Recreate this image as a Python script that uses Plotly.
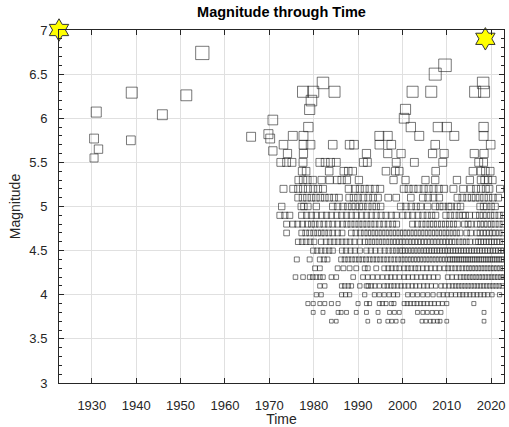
import numpy as np
import plotly.graph_objects as go

# ---- larger / older events (year, magnitude) ----
big_years = [1930.5, 1931.0, 1931.5, 1930.5, 1939.0, 1938.8, 1945.9, 1951.3, 1954.9, 1965.9,
             1969.8, 1970.2, 1970.8, 1970.8, 1973.2, 1974.1, 1975.3, 1977.7, 1977.7, 1977.7,
             1978.8, 1977.6, 1979.9, 1979.5, 1979.1, 1982.1, 1984.7, 1979.3, 1984.3, 1988.1,
             1989.1, 1991.9, 1994.8, 1996.7, 1994.8, 1997.5, 1996.7, 1999.7, 2000.7, 2000.4,
             2001.9, 2002.3, 2003.8, 2006.5, 2007.4, 2009.6, 2008.0, 2010.0, 2011.7, 2007.4,
             2006.8, 2009.4, 2016.4, 2018.4, 2018.2, 2018.3, 2018.3, 2019.9, 2016.2, 2018.4]
big_mags = [5.77, 6.07, 5.65, 5.55, 6.29, 5.75, 6.04, 6.26, 6.74, 5.79,
            5.82, 5.77, 5.98, 5.63, 5.7, 5.6, 5.8, 5.8, 5.7, 5.6,
            5.9, 6.3, 6.3, 6.2, 6.1, 6.4, 6.3, 5.7, 5.7, 5.7,
            5.7, 5.6, 5.8, 5.8, 5.7, 5.7, 5.6, 5.6, 6.1, 6.0,
            5.9, 6.3, 5.8, 6.3, 6.5, 6.6, 5.9, 5.9, 5.8, 5.7,
            5.6, 5.6, 6.3, 6.3, 6.4, 5.9, 5.8, 5.7, 5.6, 5.6]

# ---- events per magnitude row (years) ----
yrs_55 = [1972.6, 1973.9, 1975.1, 1977.6, 1981.4, 1982.6, 1983.8, 1985.1, 1991.2, 1992.1,
          1998.6, 2002.7, 2009.1, 2017.2, 2018.3]
yrs_54 = [1977.4, 1978.3, 1983.5, 1986.8, 1987.8, 1988.8, 1996.3, 1998.4, 1999.3, 2007.5,
          2015.9, 2017.7, 2018.7, 2019.8]
yrs_53 = [1976.6, 1977.6, 1978.6, 1979.8, 1981.8, 1983.6, 1985.3, 1986.3, 1987.5, 1990.2,
          1998.0, 2000.7, 2005.2, 2007.4, 2012.3, 2015.2, 2017.7, 2018.5, 2019.3, 2020.3]
yrs_52 = [1973.2, 1975.4, 1976.5, 1977.6, 1978.7, 1979.9, 1981.0, 1982.1, 1987.9, 1989.3,
          1990.4, 1991.5, 1992.6, 1993.8, 1995.0, 2000.3, 2001.4, 2002.5, 2003.6, 2004.8,
          2005.9, 2007.0, 2008.2, 2009.4, 2011.5, 2013.7, 2015.4, 2016.6, 2017.7, 2018.8,
          2019.6, 2022.0]
yrs_51 = [1976.5, 1977.5, 1978.5, 1979.5, 1980.5, 1981.5, 1982.5, 1983.5, 1984.6, 1985.7,
          1988.0, 1989.0, 1990.0, 1991.2, 1992.3, 1993.4, 1994.5, 1996.8, 1998.6, 2001.9,
          2004.6, 2005.8, 2007.0, 2008.3, 2012.4, 2013.5, 2014.6, 2015.6, 2016.5, 2017.4,
          2018.4, 2019.4, 2020.4, 2021.6]
yrs_50 = [1972.8, 1977.2, 1977.8, 1978.7, 1980.6, 1984.3, 1985.4, 1986.6, 1987.7, 1988.6,
          1989.4, 1990.3, 1991.1, 1992.2, 1993.2, 1994.1, 1995.1, 1999.6, 2000.8, 2002.0,
          2003.1, 2004.1, 2005.7, 2007.4, 2008.4, 2009.2, 2010.4, 2011.0, 2012.3, 2013.1,
          2017.5, 2018.3, 2019.0, 2020.0, 2020.9]
yrs_49 = [1972.4, 1973.5, 1974.6, 1977.3, 1978.4, 1979.5, 1980.6, 1981.8, 1982.9, 1984.0,
          1985.2, 1986.3, 1987.4, 1988.5, 1989.6, 1990.8, 1991.9, 1993.0, 1994.1, 1995.2,
          1996.3, 1997.5, 1998.6, 2000.1, 2001.2, 2002.3, 2003.5, 2004.6, 2005.6, 2006.6,
          2007.5, 2009.8, 2010.8, 2011.8, 2012.8, 2013.6, 2014.2, 2015.1, 2016.5, 2017.4,
          2018.2, 2019.0, 2019.9, 2020.8, 2021.8, 2022.8]
yrs_48 = [1973.9, 1975.3, 1976.4, 1977.5, 1978.6, 1979.5, 1980.3, 1981.3, 1982.3, 1983.3,
          1984.3, 1985.4, 1986.5, 1987.5, 1988.4, 1989.3, 1990.2, 1991.1, 1992.0, 1992.9,
          1993.8, 1994.8, 1995.8, 1996.8, 1997.8, 1998.7, 2002.3, 2003.4, 2004.4, 2005.3,
          2006.2, 2007.0, 2007.9, 2008.8, 2009.7, 2010.6, 2011.5, 2012.4, 2014.0, 2014.8,
          2015.5, 2016.8, 2017.6, 2018.4, 2019.2, 2020.0, 2020.9, 2021.8, 2022.7]
yrs_47 = [1973.9, 1977.3, 1978.2, 1979.1, 1980.0, 1980.9, 1981.7, 1982.5, 1983.4, 1984.3,
          1985.4, 1986.4, 1988.5, 1989.5, 1990.5, 1991.4, 1992.2, 1993.0, 1993.8, 1994.6,
          1995.4, 1996.2, 1997.0, 1997.8, 1998.6, 1999.4, 2000.2, 2001.0, 2001.8, 2002.6,
          2003.4, 2004.2, 2005.0, 2005.8, 2006.6, 2007.4, 2008.2, 2009.0, 2009.8, 2010.6,
          2011.4, 2012.2, 2013.0, 2014.5, 2015.4, 2016.8, 2017.5, 2018.2, 2018.9, 2019.6,
          2020.3, 2021.0, 2021.8, 2022.6]
yrs_46 = [1976.5, 1977.4, 1978.3, 1979.2, 1980.1, 1981.7, 1982.8, 1983.7, 1984.6, 1985.5,
          1986.4, 1987.3, 1988.2, 1989.2, 1990.4, 1991.5, 1992.3, 1993.1, 1993.9, 1994.7,
          1995.5, 1996.3, 1997.1, 1997.9, 1998.6, 1999.3, 2000.0, 2000.7, 2001.4, 2002.1,
          2002.8, 2003.5, 2004.2, 2004.9, 2005.6, 2006.3, 2007.0, 2007.7, 2008.4, 2009.1,
          2009.8, 2010.5, 2011.2, 2011.9, 2012.8, 2013.6, 2014.4, 2015.2, 2016.5, 2017.1,
          2017.7, 2018.3, 2018.9, 2019.5, 2020.1, 2020.7, 2021.3, 2021.9, 2022.6]
yrs_45 = [1979.9, 1980.8, 1981.7, 1982.6, 1983.5, 1984.3, 1986.4, 1987.3, 1988.3, 1989.3,
          1990.4, 1991.9, 1992.9, 1993.9, 1995.0, 1996.0, 1996.9, 1997.8, 1998.6, 1999.4,
          2000.0, 2000.6, 2001.3, 2002.0, 2002.7, 2003.4, 2004.1, 2004.8, 2005.4, 2006.0,
          2006.6, 2007.2, 2007.8, 2008.4, 2009.0, 2009.6, 2010.2, 2010.8, 2011.4, 2012.0,
          2012.6, 2013.2, 2013.8, 2014.4, 2015.0, 2015.6, 2016.2, 2016.8, 2017.4, 2018.0,
          2018.6, 2019.2, 2019.8, 2020.4, 2021.0, 2021.6, 2022.2, 2022.8]
yrs_44 = [1976.2, 1979.1, 1981.4, 1982.3, 1983.1, 1986.2, 1987.0, 1987.8, 1988.6, 1989.4,
          1990.2, 1991.0, 1991.8, 1992.6, 1993.4, 1994.2, 1995.0, 1995.8, 1996.6, 1997.4,
          1998.2, 1999.0, 1999.8, 2000.5, 2001.2, 2001.9, 2002.6, 2003.3, 2004.0, 2004.7,
          2005.4, 2006.1, 2006.8, 2007.5, 2008.2, 2008.9, 2009.6, 2010.3, 2010.8, 2011.3,
          2011.8, 2012.3, 2012.8, 2013.3, 2013.8, 2014.3, 2014.8, 2015.3, 2015.8, 2016.3,
          2016.8, 2017.3, 2017.8, 2018.3, 2018.8, 2019.3, 2019.8, 2020.3, 2020.8, 2021.3,
          2021.8, 2022.3, 2022.8]
yrs_43 = [1980.3, 1981.4, 1985.4, 1986.7, 1988.1, 1989.6, 1991.5, 1992.2, 1994.1, 1995.9,
          1996.8, 1997.6, 1998.5, 1999.3, 2000.4, 2001.2, 2002.0, 2002.9, 2003.6, 2004.6,
          2005.5, 2006.4, 2007.4, 2008.3, 2009.5, 2010.3, 2011.1, 2011.9, 2012.7, 2013.5,
          2014.3, 2015.0, 2015.7, 2016.4, 2017.1, 2017.8, 2018.5, 2019.2, 2019.9, 2020.6,
          2021.3, 2022.0, 2022.7]
yrs_42 = [1975.9, 1977.6, 1979.1, 1979.8, 1980.6, 1981.4, 1982.1, 1984.0, 1985.1, 1988.9,
          1991.1, 1992.2, 1993.3, 1994.4, 1995.5, 1996.6, 1997.4, 1998.3, 1999.3, 2000.4,
          2001.3, 2002.3, 2003.2, 2004.2, 2005.1, 2006.0, 2007.0, 2008.0, 2010.2, 2011.2,
          2012.2, 2013.1, 2013.8, 2014.5, 2015.2, 2015.9, 2016.6, 2017.3, 2018.0, 2018.7,
          2019.4, 2020.1, 2020.8, 2021.5, 2022.2, 2022.8]
yrs_41 = [1981.4, 1982.5, 1986.3, 1987.0, 1987.8, 1988.5, 1990.4, 1991.9, 1992.3, 1993.0,
          1993.8, 1994.8, 1995.9, 1996.6, 1997.4, 1998.1, 1998.9, 1999.7, 2000.5, 2001.3,
          2002.2, 2003.0, 2003.9, 2004.8, 2005.6, 2006.5, 2007.5, 2008.7, 2009.6, 2010.5,
          2011.3, 2012.0, 2012.7, 2013.4, 2014.1, 2014.8, 2015.5, 2016.2, 2016.9, 2017.6,
          2018.3, 2019.0, 2019.7, 2020.4, 2021.1, 2021.8, 2022.5]
yrs_40 = [1980.6, 1981.7, 1986.3, 1987.2, 1988.1, 1991.5, 1993.7, 1994.8, 1995.9, 1997.0,
          1998.0, 1998.9, 2001.2, 2002.3, 2003.4, 2004.6, 2005.7, 2006.9, 2008.3, 2009.2,
          2010.1, 2011.0, 2012.0, 2012.9, 2013.6, 2014.4, 2015.2, 2016.0, 2016.8, 2017.6,
          2018.4, 2019.2, 2020.2, 2021.9]
yrs_39 = [1978.7, 1979.9, 1981.4, 1982.5, 1984.0, 1985.5, 1990.0, 1991.9, 1992.6, 1994.8,
          1995.5, 1996.3, 1997.5, 1998.1, 2000.4, 2001.1, 2001.8, 2002.6, 2003.3, 2004.1,
          2004.8, 2005.6, 2006.4, 2007.2, 2008.1, 2009.0, 2010.0, 2016.1]
yrs_38 = [1979.9, 1982.1, 1985.5, 1986.2, 1987.4, 1989.6, 1991.9, 1994.5, 1997.1, 1998.2,
          1999.3, 2003.4, 2004.6, 2005.6, 2006.7, 2007.7, 2008.7, 2018.4]
yrs_37 = [1984.0, 1985.1, 1992.2, 1994.8, 1996.7, 1997.6, 1998.6, 2000.1, 2004.4, 2005.3,
          2006.3, 2007.0, 2007.9, 2008.5, 2010.0, 2018.4]

row_mags = [5.5, 5.4, 5.3, 5.2, 5.1, 5.0, 4.9, 4.8, 4.7, 4.6, 4.5, 4.4, 4.3, 4.2, 4.1, 4.0, 3.9, 3.8, 3.7]
row_years = [yrs_55, yrs_54, yrs_53, yrs_52, yrs_51, yrs_50, yrs_49, yrs_48, yrs_47, yrs_46,
             yrs_45, yrs_44, yrs_43, yrs_42, yrs_41, yrs_40, yrs_39, yrs_38, yrs_37]

# largest events marked with stars
star_years = [1922.6, 2018.7]
star_mags = [7.0, 6.9]

x_ticks = [1930, 1940, 1950, 1960, 1970, 1980, 1990, 2000, 2010, 2020]
y_ticks = [3, 3.5, 4, 4.5, 5, 5.5, 6, 6.5, 7]

years = list(big_years)
mags = list(big_mags)
for m, ys in zip(row_mags, row_years):
    years += ys
    mags += [m] * len(ys)
years = np.array(years)
mags = np.array(mags)
sizes = 4.2 * np.exp(0.42 * (mags - 4.0))

AX = "#262626"
GRID = "#e0e0e0"
FONT = "Liberation Sans, Arial, sans-serif"

fig = go.Figure()
fig.add_trace(go.Scatter(
    x=years, y=mags, mode="markers",
    marker=dict(symbol="square-open", size=sizes, color="rgba(30,30,30,0.85)",
                line=dict(width=1, color="rgba(30,30,30,0.85)")),
    showlegend=False, hoverinfo="skip"))
fig.add_trace(go.Scatter(
    x=star_years, y=star_mags, mode="markers", cliponaxis=False,
    marker=dict(symbol="hexagram", size=17, color="#ffff00",
                line=dict(width=1, color="#333333")),
    showlegend=False, hoverinfo="skip"))

fig.update_layout(
    width=509, height=427,
    margin=dict(l=59, r=3, t=30, b=44),
    paper_bgcolor="white", plot_bgcolor="white",
    font=dict(family=FONT, size=13, color=AX),
    title=dict(text="<b>Magnitude through Time</b>", x=0.5, xref="paper", xanchor="center",
               y=1 - 12 / 427, yref="container", yanchor="middle",
               font=dict(family=FONT, size=14.5, color="black")),
)
fig.update_xaxes(
    range=[1922.6, 2022.9], tickvals=x_ticks, ticktext=[str(v) for v in x_ticks],
    showgrid=True, gridcolor=GRID, gridwidth=1, zeroline=False,
    showline=True, linecolor=AX, linewidth=1, mirror="allticks",
    ticks="inside", ticklen=5, tickcolor=AX, ticklabelstandoff=10,
    tickfont=dict(size=13, color=AX),
    title=dict(text="Time", font=dict(size=14, color=AX), standoff=2),
)
fig.update_yaxes(
    range=[3, 7], tickvals=y_ticks, ticktext=["3", "3.5", "4", "4.5", "5", "5.5", "6", "6.5", "7"],
    showgrid=True, gridcolor=GRID, gridwidth=1, zeroline=False,
    showline=True, linecolor=AX, linewidth=1, mirror="allticks",
    ticks="inside", ticklen=5, tickcolor=AX, ticklabelstandoff=8,
    tickfont=dict(size=13, color=AX),
    minor=dict(dtick=0.1, ticks="inside", ticklen=3, tickcolor=AX, showgrid=False),
    title=dict(text="Magnitude", font=dict(size=14, color=AX), standoff=5),
)

fig.write_html("out.html", config={"displayModeBar": False},
               post_script="document.body.style.margin='0px';document.body.style.overflow='hidden';")
